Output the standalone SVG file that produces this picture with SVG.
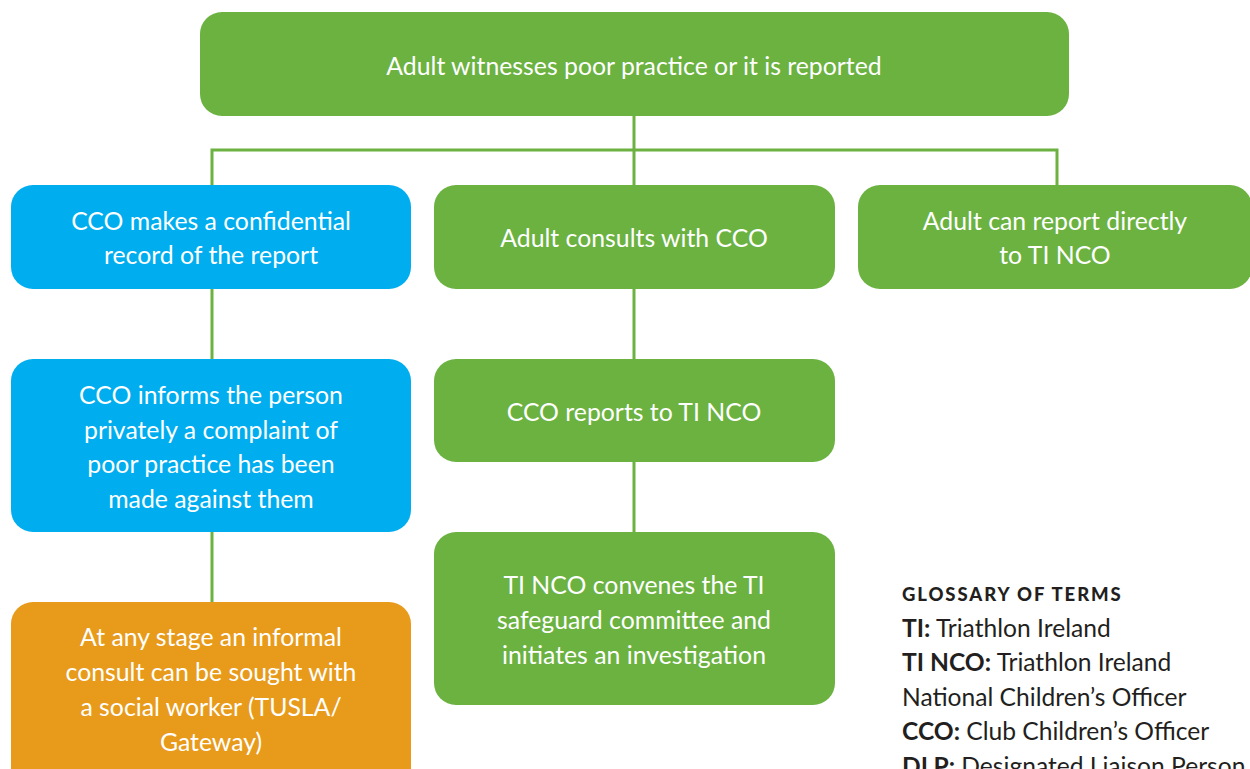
<svg xmlns="http://www.w3.org/2000/svg" width="1250" height="769" viewBox="0 0 1250 769">
  <style>
    .green { fill: #6bb241; }
    .blue { fill: #00aeef; }
    .orange { fill: #e89b1b; }
    .label { font-family: Lato, "Open Sans", "Liberation Sans", sans-serif; font-size: 24.8px; fill: #ffffff; text-anchor: middle; }
    .link { stroke: #6bb241; stroke-width: 3; fill: none; }
    .gloss { font-family: Lato, "Open Sans", "Liberation Sans", sans-serif; font-size: 24.6px; fill: #231f20; }
    .gloss-title { font-family: Lato, "Open Sans", "Liberation Sans", sans-serif; font-size: 18.5px; font-weight: 900; letter-spacing: 1.9px; fill: #231f20; }
    .b { font-weight: bold; }
  </style>
  <rect width="1250" height="769" fill="#ffffff"/>

  <g id="connectors">
    <path class="link" d="M634 116 V185"/>
    <path class="link" d="M212 185 V150 H1057 V185"/>
    <path class="link" d="M212 289 V359"/>
    <path class="link" d="M212 532 V602"/>
    <path class="link" d="M634 289 V359"/>
    <path class="link" d="M634 462 V532"/>
  </g>

  <g id="node-witness">
    <rect class="green" x="200" y="12" width="869" height="104" rx="22"/>
    <text class="label" x="634" y="75">Adult witnesses poor practice or it is reported</text>
  </g>

  <g id="node-record">
    <rect class="blue" x="11" y="185" width="400" height="104" rx="22"/>
    <text class="label" x="211" y="230">CCO makes a confidential</text>
    <text class="label" x="211" y="264">record of the report</text>
  </g>

  <g id="node-consult">
    <rect class="green" x="434" y="185" width="401" height="104" rx="22"/>
    <text class="label" x="634" y="247">Adult consults with CCO</text>
  </g>

  <g id="node-direct">
    <rect class="green" x="858" y="185" width="394" height="104" rx="22"/>
    <text class="label" x="1055" y="230">Adult can report directly</text>
    <text class="label" x="1055" y="264">to TI NCO</text>
  </g>

  <g id="node-inform">
    <rect class="blue" x="11" y="359" width="400" height="173" rx="22"/>
    <text class="label" x="211" y="404">CCO informs the person</text>
    <text class="label" x="211" y="439">privately a complaint of</text>
    <text class="label" x="211" y="473">poor practice has been</text>
    <text class="label" x="211" y="508">made against them</text>
  </g>

  <g id="node-reports">
    <rect class="green" x="434" y="359" width="401" height="103" rx="22"/>
    <text class="label" x="634" y="421">CCO reports to TI NCO</text>
  </g>

  <g id="node-convenes">
    <rect class="green" x="434" y="532" width="401" height="173" rx="22"/>
    <text class="label" x="634" y="594">TI NCO convenes the TI</text>
    <text class="label" x="634" y="629">safeguard committee and</text>
    <text class="label" x="634" y="664">initiates an investigation</text>
  </g>

  <g id="node-social-worker">
    <rect class="orange" x="11" y="602" width="400" height="190" rx="22"/>
    <text class="label" x="211" y="646">At any stage an informal</text>
    <text class="label" x="211" y="681">consult can be sought with</text>
    <text class="label" x="211" y="716">a social worker (TUSLA/</text>
    <text class="label" x="211" y="751">Gateway)</text>
  </g>

  <g id="glossary">
    <text class="gloss-title" x="902" y="601">GLOSSARY OF TERMS</text>
    <text class="gloss" x="902" y="637"><tspan class="b">TI:</tspan> Triathlon Ireland</text>
    <text class="gloss" x="902" y="671"><tspan class="b">TI NCO:</tspan> Triathlon Ireland</text>
    <text class="gloss" x="902" y="706">National Children’s Officer</text>
    <text class="gloss" x="902" y="740"><tspan class="b">CCO:</tspan> Club Children’s Officer</text>
    <text class="gloss" x="902" y="775"><tspan class="b">DLP:</tspan> Designated Liaison Person</text>
  </g>
</svg>
